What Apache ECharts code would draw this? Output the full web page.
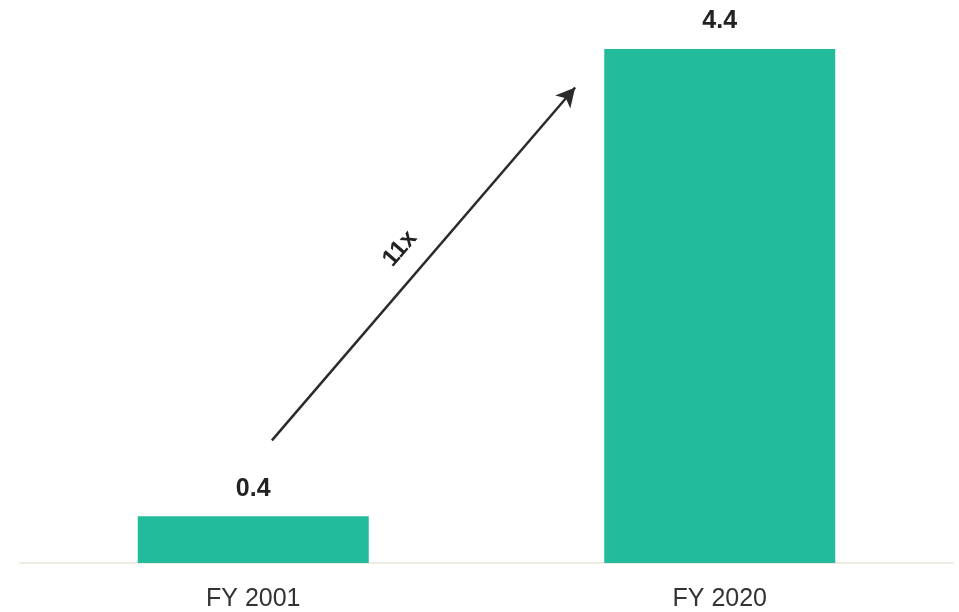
<!DOCTYPE html>
<html>
<head>
<meta charset="utf-8">
<script src="https://cdn.jsdelivr.net/npm/echarts@6/dist/echarts.min.js"></script>
<style>
  html, body { margin: 0; padding: 0; background: #ffffff; }
  #chart { width: 959px; height: 612px; }
</style>
</head>
<body>
<div id="chart"></div>
<script>
// Fiscal years and their values
const categories = ['FY 2001', 'FY 2020'];
const values = [0.4, 4.4];

// Growth arrow between the bars: [x position on category scale, value]
const arrowStart = [0.04, 1.05];
const arrowEnd = [0.69, 4.07];
const arrowLabel = '11x';

const chart = echarts.init(document.getElementById('chart'));

chart.setOption({
  animation: false,
  backgroundColor: '#ffffff',
  grid: { left: 20, right: 6, top: 49, bottom: 49 },
  xAxis: [
    {
      type: 'category',
      data: categories,
      axisLine: { lineStyle: { color: '#efece1', width: 2 } },
      axisTick: { show: false },
      axisLabel: {
        color: '#333333',
        fontSize: 25,
        fontFamily: 'Liberation Sans',
        margin: 24
      }
    },
    {
      type: 'value',
      min: -0.5,
      max: 1.5,
      show: false
    }
  ],
  yAxis: {
    type: 'value',
    min: 0,
    max: 4.4,
    show: false,
    splitLine: { show: false }
  },
  series: [
    {
      type: 'bar',
      data: values,
      barWidth: 231,
      itemStyle: { color: '#22bb9c' },
      label: {
        show: true,
        position: 'top',
        distance: 15,
        color: '#222222',
        fontSize: 25,
        fontWeight: 'bold',
        fontFamily: 'Liberation Sans'
      }
    },
    {
      type: 'line',
      xAxisIndex: 1,
      data: [],
      markLine: {
        silent: true,
        symbol: ['none', 'arrow'],
        symbolSize: [15, 19],
        lineStyle: { color: '#2b2b2b', width: 2.5, type: 'solid' },
        label: {
          show: true,
          position: 'middle',
          formatter: arrowLabel,
          distance: 24,
          color: '#222222',
          fontSize: 24,
          fontWeight: 'bold',
          fontFamily: 'Liberation Sans',
          offset: [-22, 0]
        },
        data: [[{ coord: arrowStart }, { coord: arrowEnd }]]
      }
    }
  ]
});
</script>
</body>
</html>
